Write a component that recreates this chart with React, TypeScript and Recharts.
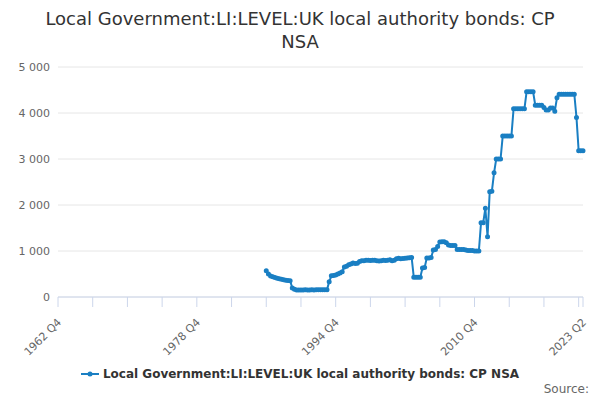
import React from "react";
import { LineChart, Line, XAxis, YAxis, CartesianGrid } from "recharts";

const START_YEAR = 1962;
const START_Q = 4;
const QUARTER_COUNT = 243; // 1962 Q4 .. 2023 Q2
const FIRST_DATA_INDEX = 96; // 1986 Q4

const bondValues = [
  570, 500, 455, 440, 425, 410, 395, 385, 375, 365, 360, 355, 195, 170, 150,
  150, 152, 150, 155, 150, 152, 155, 150, 155, 158, 155, 160, 160, 160,
  330, 460, 470, 480, 500, 520, 550, 650, 670, 700, 720, 740, 730, 735, 770, 790,
  790, 800, 800, 795, 800, 800, 790, 785, 790, 800, 795, 800, 810, 790, 800, 830,
  840, 830, 835, 840, 850, 855, 860,
  430, 430, 430, 430, 630, 640, 850, 850, 860, 1020, 1030, 1100, 1195, 1200, 1200,
  1180, 1130, 1120, 1120, 1120, 1030, 1030, 1030, 1030, 1020, 1010, 1010, 1010,
  1000, 1000, 1000,
  1615, 1615, 1930, 1310, 2290, 2300, 2700, 3000, 3000, 3000, 3500, 3500, 3500,
  3500, 3500, 4090, 4090, 4090, 4090, 4090, 4090, 4460, 4460, 4460, 4460, 4170,
  4170, 4170, 4170, 4120, 4065, 4065, 4110, 4110, 4040, 4330, 4410, 4410, 4410,
  4410, 4410, 4410, 4410, 4410, 3900, 3180, 3180, 3180,
];

const yTicks = [0, 1000, 2000, 3000, 4000, 5000];
const labelledTicks = [0, 64, 128, 192, 242];

const quarterLabel = (i: number) => {
  const q = START_Q - 1 + i;
  return `${START_YEAR + Math.floor(q / 4)} Q${(q % 4) + 1}`;
};

const data = Array.from({ length: QUARTER_COUNT }, (_, i) => ({
  idx: i,
  label: quarterLabel(i),
  value: i >= FIRST_DATA_INDEX ? bondValues[i - FIRST_DATA_INDEX] ?? null : null,
}));

const xTicks = [...Array.from({ length: 16 }, (_, k) => k * 16), 242];

const fmt = (v: number) => String(v).replace(/\B(?=(\d{3})+(?!\d))/g, " ");

function XTick({ x, y, payload }: any) {
  if (!labelledTicks.includes(payload.value)) return null;
  return (
    <text x={x + 4} y={y + 14} textAnchor="end" fill="#666" fontSize={11}
      transform={`rotate(-45 ${x + 4} ${y + 14})`}>
      {quarterLabel(payload.value)}
    </text>
  );
}

const COLOR = "#1a7fc3";
const font = "'DejaVu Sans', Verdana, sans-serif";

export default function App() {
  return (
    <div style={{ position: "absolute", left: 0, top: 0, width: 600, height: 400, background: "#fff", fontFamily: font }}>
      <div style={{ position: "absolute", top: 7, left: 0, width: 600, textAlign: "center", fontSize: 18, color: "#333", lineHeight: "23px" }}>
        Local Government:LI:LEVEL:UK local authority bonds: CP<br />NSA
      </div>
      <LineChart width={600} height={400} data={data} margin={{ top: 67, right: 17, bottom: 43, left: 0 }}>
        <CartesianGrid vertical={false} stroke="#e6e6e6" />
        <XAxis dataKey="idx" type="number" domain={[0, 242]} ticks={xTicks} interval={0}
          stroke="#ccd6eb" tickSize={10} tick={<XTick />} height={60} />
        <YAxis domain={[0, 5000]} ticks={yTicks} width={58} axisLine={false} tickLine={false}
          tickFormatter={fmt} tick={{ fill: "#666", fontSize: 11 }} />
        <Line dataKey="value" stroke={COLOR} strokeWidth={2} isAnimationActive={false}
          connectNulls={false} dot={{ r: 1.5, fill: COLOR, stroke: COLOR }} />
      </LineChart>
      <div style={{ position: "absolute", top: 367, left: 0, width: 600, textAlign: "center", fontSize: 12, fontWeight: "bold", color: "#333" }}>
        <svg width={18} height={8} style={{ marginRight: 4 }}>
          <line x1={0} y1={4} x2={18} y2={4} stroke={COLOR} strokeWidth={2} />
          <circle cx={9} cy={4} r={2.5} fill={COLOR} />
        </svg>
        Local Government:LI:LEVEL:UK local authority bonds: CP NSA
      </div>
      <div style={{ position: "absolute", top: 382, right: 11, fontSize: 12, color: "#666" }}>Source:</div>
    </div>
  );
}
